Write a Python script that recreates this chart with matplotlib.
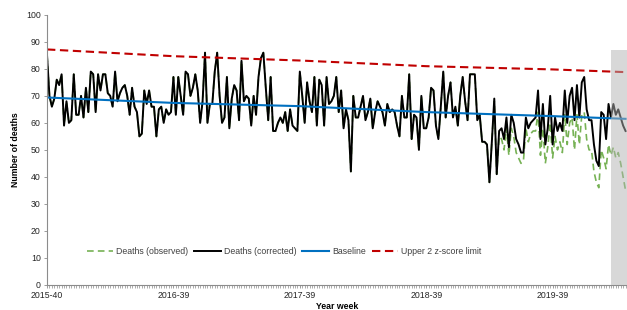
import matplotlib
matplotlib.use('Agg')
import matplotlib.pyplot as plt
import numpy as np

plt.rcParams['font.family'] = ['Liberation Sans', 'DejaVu Sans']

# weekly deaths, 2015-40 onwards
corrected = [85, 70, 66, 69, 76, 74, 78, 59, 68, 60, 61, 78, 63, 63, 70, 62, 73, 64, 79, 78,
             64, 78, 72, 78, 78, 71, 70, 66, 79, 68, 71, 73, 74, 70, 63, 73, 66, 64,
             55, 56, 72, 67, 72, 66, 66, 55, 65, 66, 60, 65, 63, 64, 77, 63, 77, 70, 63, 79,
             78, 70, 73, 78, 72, 60, 68, 86, 60, 67, 67, 79, 86, 70, 60, 62, 77, 58, 69, 74, 72, 61,
             83, 68, 70, 69, 59, 70, 63, 77, 84, 86, 73, 61, 77, 57, 57, 60, 62, 60, 64, 57,
             65, 59, 58, 57, 79, 70, 60, 75, 68, 64, 77, 59, 76, 74, 59, 77, 67,
             68, 70, 77, 64, 72, 58, 65, 61, 42, 70, 62, 62, 66, 70, 61, 64, 69, 58, 64, 68,
             66, 64, 59, 67, 64, 65, 64, 59, 55, 70, 62, 62, 78, 54, 63, 62, 50, 70, 58, 58,
             62, 73, 72, 59, 54, 66, 79, 62, 70, 75, 62, 66, 59, 70, 77, 68, 61, 78, 78, 78, 61,
             63, 53, 53, 52, 38, 53, 69, 41, 57, 58, 54, 62, 51, 63, 60, 54, 52, 49, 49, 62,
             58, 60, 61, 62, 72, 54, 67, 52, 58, 70, 52, 62, 57, 60, 57, 72, 60, 70, 73, 61,
             74, 62, 75, 77, 65, 61, 61, 52, 46, 44, 64, 63, 54, 67, 62, 67, 63, 65, 62, 59, 57]

# observed deaths differ from corrected only in the last weeks
observed_from = 178
observed_tail = [63, 53, 53, 52, 38, 53, 68, 41, 55, 54, 50, 58, 48, 58, 55, 49, 47, 45, 46, 58,
                 53, 56, 57, 57, 64, 48, 58, 45, 51, 60, 47, 55, 50, 53, 49, 63, 52, 60, 62, 50,
                 63, 52, 63, 64, 54, 50, 50, 42, 38, 36, 50, 47, 43, 52, 48, 51, 47, 49, 45, 40, 35]
observed = corrected[:observed_from] + observed_tail

line_weeks = [0, 52, 104, 156, 208, 238]
baseline = [69.4, 67.4, 66.2, 64.0, 62.5, 61.5]
upper_limit = [87.2, 84.7, 83.1, 81.0, 79.8, 78.8]

tick_weeks = [0, 52, 104, 156, 208]
tick_labels = ['2015-40', '2016-39', '2017-39', '2018-39', '2019-39']

shade_start = 232
shade_top = 87

weeks = np.arange(len(corrected))
fs = 6.3

fig = plt.figure(figsize=(6.27, 3.10), dpi=100)
ax = fig.add_axes([0.075, 0.081, 0.925, 0.871])

ax.plot(weeks, observed, color='#77b255', lw=1.2, dashes=(4, 2.5), label='Deaths (observed)')
ax.plot(weeks, corrected, color='black', lw=1.4, label='Deaths (corrected)')
ax.plot(line_weeks, baseline, color='#0070c0', lw=1.5, label='Baseline')
ax.plot(line_weeks, upper_limit, color='#c00000', lw=1.5, dashes=(4, 2.2), label='Upper 2 z-score limit')

ax.fill_between([shade_start, weeks[-1] + 1], 0, shade_top, color='#b3b3b3', alpha=0.5,
                lw=0, zorder=5)

ax.set_xlim(0, weeks[-1] + 0.6)
ax.set_ylim(0, 100)
ax.set_yticks(np.arange(0, 101, 10))
ax.set_xticks(tick_weeks)
ax.set_xticklabels(tick_labels)
ax.set_xticks(weeks, minor=True)

for s in ['top', 'right']:
    ax.spines[s].set_visible(False)
for s in ['left', 'bottom']:
    ax.spines[s].set_color('#8c8c8c')
    ax.spines[s].set_linewidth(0.8)
ax.tick_params(axis='both', which='both', colors='#8c8c8c', labelcolor='#262626',
               labelsize=fs, length=2.5, width=0.6, pad=2)
ax.tick_params(axis='x', which='minor', length=2.5, width=0.5)

ax.set_ylabel('Number of deaths', fontsize=fs, fontweight='bold', labelpad=4)
ax.set_xlabel('Year week', fontsize=fs, fontweight='bold', labelpad=1)

fig.legend(loc='center', bbox_to_anchor=(0.453, 0.19), ncol=4, frameon=False,
           fontsize=fs, handlelength=3.0, columnspacing=0.7, handletextpad=0.35,
           labelcolor='#404040')

fig.savefig('out.png', dpi=100)
